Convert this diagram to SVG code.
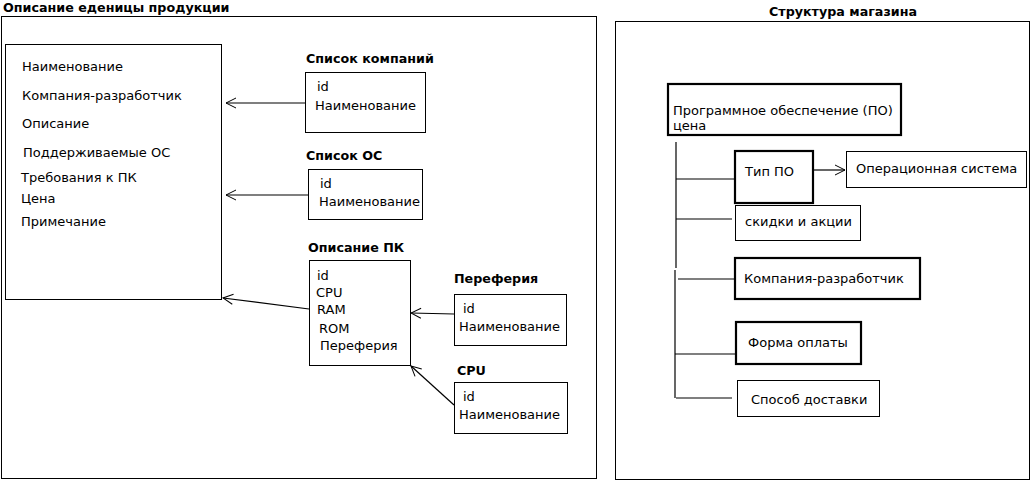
<svg xmlns="http://www.w3.org/2000/svg" width="1031" height="482" viewBox="0 0 1031 482">
<style>
text{font-family:"DejaVu Sans",sans-serif;font-size:13px;fill:#000}
.t{font-weight:bold;font-size:12.7px}
.b{fill:#fff;stroke:#000;stroke-width:1}
.k{fill:#fff;stroke:#000;stroke-width:2.2}
.c{stroke:#000;stroke-width:1.2;fill:none}
</style>
<defs>
<marker id="ah" viewBox="0 0 12 12" refX="11" refY="6" markerWidth="12" markerHeight="12" markerUnits="userSpaceOnUse" orient="auto">
<path d="M1,1 L11,6 L1,11" fill="none" stroke="#000" stroke-width="1"/>
</marker>
</defs>
<rect width="1031" height="482" fill="#fff"/>
<g id="frame-left">
<rect class="b" x="1.5" y="16.5" width="595" height="462"/>
<text class="t" x="3" y="12">Описание еденицы продукции</text>
</g>
<g id="frame-right">
<rect class="b" x="615.5" y="21.5" width="414" height="458"/>
<text class="t" x="843" y="16" text-anchor="middle">Структура магазина</text>
</g>
<g id="product">
<rect class="b" x="5.5" y="44.5" width="216" height="255"/>
<text x="22" y="71">Наименование</text>
<text x="22" y="100">Компания-разработчик</text>
<text x="22" y="128">Описание</text>
<text x="23" y="157">Поддерживаемые ОС</text>
<text x="21" y="182">Требования к ПК</text>
<text x="21" y="203">Цена</text>
<text x="21" y="226">Примечание</text>
</g>
<g id="companies">
<text class="t" x="306" y="63">Список компаний</text>
<rect class="b" x="305.5" y="72.5" width="120" height="60"/>
<text x="317" y="91">id</text>
<text x="315" y="110">Наименование</text>
</g>
<g id="os-list">
<text class="t" x="306" y="160">Список ОС</text>
<rect class="b" x="308.5" y="169.5" width="114" height="50"/>
<text x="320" y="188">id</text>
<text x="319" y="206">Наименование</text>
</g>
<g id="pc">
<text class="t" x="308" y="252">Описание ПК</text>
<rect class="b" x="309.5" y="260.5" width="101" height="105"/>
<text x="317" y="280">id</text>
<text x="316" y="297">CPU</text>
<text x="317" y="314">RAM</text>
<text x="319" y="333">ROM</text>
<text x="320" y="350">Переферия</text>
</g>
<g id="periph">
<text class="t" x="454" y="283">Переферия</text>
<rect class="b" x="454.5" y="294.5" width="112" height="51"/>
<text x="463" y="313">id</text>
<text x="459" y="331">Наименование</text>
</g>
<g id="cpu">
<text class="t" x="457" y="375">CPU</text>
<rect class="b" x="454.5" y="382.5" width="113" height="51"/>
<text x="463" y="401">id</text>
<text x="459" y="419">Наименование</text>
</g>
<g id="software">
<rect class="k" x="668" y="84" width="233" height="51"/>
<text x="673" y="115">Программное обеспечение (ПО)</text>
<text x="673" y="130">цена</text>
</g>
<g id="sw-type">
<rect class="k" x="735" y="151" width="78" height="52"/>
<text x="745" y="176">Тип ПО</text>
</g>
<g id="os">
<rect class="b" x="846.5" y="151.5" width="180" height="36"/>
<text x="856" y="173">Операционная система</text>
</g>
<g id="discounts">
<rect class="b" x="735.5" y="205.5" width="125" height="35"/>
<text x="745" y="226">скидки и акции</text>
</g>
<g id="developer">
<rect class="k" x="735" y="258" width="185" height="41"/>
<text x="744" y="283">Компания-разработчик</text>
</g>
<g id="payment">
<rect class="k" x="736" y="322" width="125" height="42"/>
<text x="748" y="347">Форма оплаты</text>
</g>
<g id="delivery">
<rect class="b" x="737.5" y="380.5" width="142" height="36"/>
<text x="751" y="404">Способ доставки</text>
</g>
<g id="connectors">
<line class="c" x1="305" y1="103" x2="226" y2="103" marker-end="url(#ah)"/>
<line class="c" x1="308" y1="195" x2="226" y2="195" marker-end="url(#ah)"/>
<line class="c" x1="309" y1="309" x2="223" y2="298" marker-end="url(#ah)"/>
<line class="c" x1="454" y1="314" x2="411" y2="313" marker-end="url(#ah)"/>
<line class="c" x1="454" y1="405" x2="411" y2="366" marker-end="url(#ah)"/>
<line class="c" x1="813" y1="170" x2="845" y2="170" marker-end="url(#ah)"/>
<line class="c" x1="676" y1="142" x2="676" y2="268"/>
<line class="c" x1="675" y1="270" x2="675" y2="398"/>
<line class="c" x1="676" y1="179" x2="735" y2="179"/>
<line class="c" x1="676" y1="219" x2="732" y2="219"/>
<line class="c" x1="678" y1="279" x2="735" y2="279"/>
<line class="c" x1="675" y1="354" x2="736" y2="354"/>
<line class="c" x1="676" y1="398" x2="732" y2="398"/>
</g>
</svg>
